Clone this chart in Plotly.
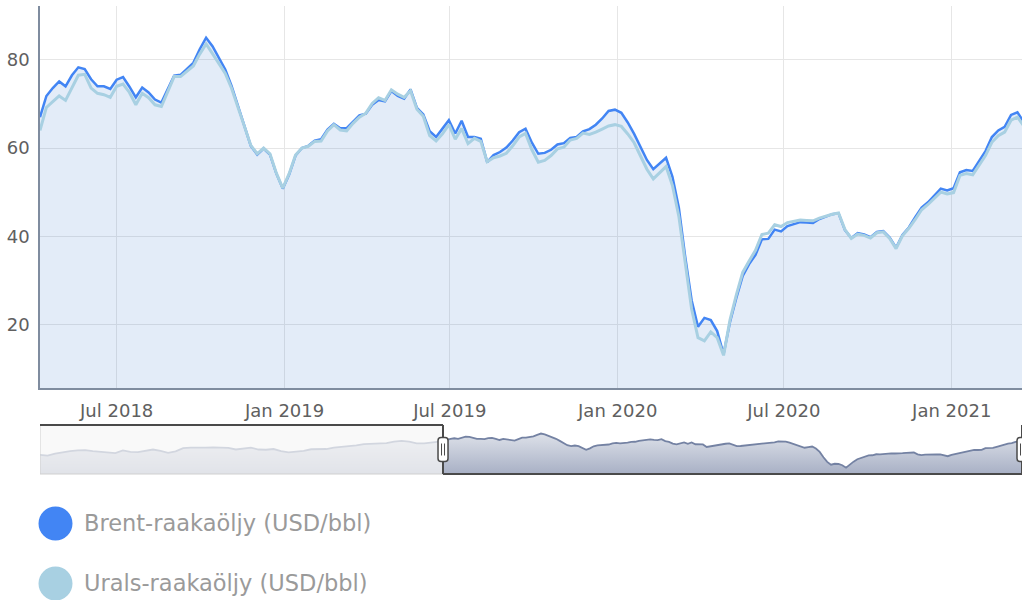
import pandas as pd
import plotly.graph_objects as go

# ---------------- data ----------------
week_start = "2018-04-08"
brent = [67.0, 71.8, 73.6, 75.1, 74.0, 76.5, 78.3, 77.9, 75.6, 74.0,
         74.0, 73.4, 75.5, 76.1, 73.9, 71.5, 73.7, 72.6, 71.0, 70.3,
         73.4, 76.4, 76.6, 78.0, 79.3, 82.4, 85.0, 83.1, 80.5, 77.8,
         74.0, 69.6, 64.8, 60.5, 58.5, 59.9, 58.5, 54.2, 50.8, 54.0,
         58.3, 60.0, 60.5, 61.7, 62.0, 64.2, 65.5, 64.5, 64.5, 66.0,
         67.4, 67.8, 69.8, 70.9, 70.6, 72.9, 71.8, 71.2, 73.3, 69.1,
         67.6, 63.8, 62.5, 64.4, 66.3, 63.3, 66.2, 62.5, 62.5, 62.1,
         56.8, 58.4, 59.1, 60.1, 61.7, 63.6, 64.4, 61.2, 58.7, 58.9,
         59.6, 60.8, 61.1, 62.3, 62.5, 63.8, 64.3, 65.3, 66.7, 68.4,
         68.7, 68.0, 65.8, 63.2, 60.3, 57.3, 55.2, 56.6, 57.8, 53.5,
         46.5, 35.3, 25.5, 19.5, 21.5, 21.0, 18.5, 13.3, 20.5, 26.0,
         31.0, 33.7, 35.8, 39.3, 39.4, 41.5, 41.1, 42.3, 42.8, 43.2,
         43.1, 43.0, 43.9, 44.5, 45.0, 45.2, 41.4, 39.6, 40.7, 40.4,
         39.8, 41.0, 41.2, 39.7, 37.4, 40.3, 42.0, 44.3, 46.5, 47.7,
         49.2, 50.8, 50.4, 50.9, 54.5, 55.0, 54.8, 57.0, 59.3, 62.5,
         64.0, 64.8, 67.5, 68.1, 65.9]
urals = [64.0, 69.2, 70.5, 71.8, 70.8, 73.6, 76.5, 76.7, 73.6, 72.4,
         72.1, 71.5, 74.0, 74.5, 72.6, 69.8, 72.4, 71.4, 69.8, 69.4,
         73.0, 76.2, 76.2, 77.5, 78.6, 81.3, 83.6, 81.4, 79.0, 76.9,
         73.5, 69.3, 64.9, 60.6, 58.7, 60.0, 58.7, 54.3, 50.9, 54.2,
         58.4, 60.0, 60.4, 61.5, 61.6, 63.9, 65.3, 64.1, 63.9, 65.6,
         67.0, 67.9, 70.1, 71.4, 70.8, 73.2, 72.2, 71.5, 73.0, 68.8,
         67.2, 62.8, 61.6, 63.2, 65.3, 62.0, 64.4, 61.0, 62.2, 61.5,
         56.9, 57.8, 58.2, 58.8, 60.5, 62.5, 63.3, 59.6, 56.8, 57.2,
         58.3, 59.8, 60.2, 61.8, 62.2, 63.4, 63.1, 63.6, 64.3, 65.0,
         65.3, 64.9, 63.2, 61.2, 58.2, 55.2, 53.0, 54.5, 55.8, 51.5,
         44.5, 34.0, 23.5, 17.0, 16.3, 18.3, 17.0, 13.0, 21.0, 26.7,
         31.8, 34.4, 36.8, 40.4, 40.7, 42.6, 42.2, 43.1, 43.4, 43.7,
         43.6, 43.5, 44.1, 44.6, 45.0, 45.3, 41.5, 39.5, 40.5, 40.2,
         39.6, 40.8, 41.0, 39.5, 37.2, 40.1, 41.8, 43.8, 46.0, 47.2,
         48.5, 50.0, 49.6, 49.9, 53.8, 54.2, 53.9, 56.0, 58.3, 61.3,
         62.8, 63.6, 66.3, 67.0, 65.0]

# navigator history (Brent, two-weekly) before the selected range
hist_start = "2016-03-20"
hist_brent = [40.0, 38.7, 43.0, 46.0, 48.0, 49.5, 50.0, 48.0, 46.5, 44.5,
              44.0, 49.5, 46.5, 46.0, 49.5, 51.5, 48.5, 44.5, 47.5, 54.5,
              55.5, 55.0, 55.5, 56.0, 56.0, 55.0, 51.5, 53.0, 55.5, 51.5,
              51.0, 52.5, 48.0, 45.5, 47.0, 48.5, 52.0, 51.5, 52.5, 55.5,
              57.0, 57.5, 60.0, 63.0, 63.5, 63.5, 65.0, 68.0, 69.5, 68.0,
              64.5, 64.5, 66.0, 68.0]

y_ticks = [20, 40, 60, 80]
series_names = ["Brent-raakaöljy (USD/bbl)", "Urals-raakaöljy (USD/bbl)"]
series_colors = ["#4285f4", "#a8d0e2"]

view_start, view_end = "2018-04-08", "2021-03-19"
nav_start, nav_end = "2016-03-20", "2021-03-19"

dates = pd.date_range(week_start, periods=len(brent), freq="7D")
hist_dates = pd.date_range(hist_start, periods=len(hist_brent), freq="14D")
nav_x = list(hist_dates) + list(dates)
nav_y = hist_brent + brent

W, H = 1027, 600
xdom = [40 / W, 1022 / W]
FONT = "DejaVu Sans"

fig = go.Figure()
fig.add_trace(go.Scatter(
    x=dates, y=brent, mode="lines", name=series_names[0],
    line=dict(color=series_colors[0], width=2.5),
    fill="tozeroy", fillcolor="rgba(68,128,208,0.15)",
    xaxis="x", yaxis="y"))
fig.add_trace(go.Scatter(
    x=dates, y=urals, mode="lines", name=series_names[1],
    line=dict(color=series_colors[1], width=3),
    xaxis="x", yaxis="y"))
fig.add_trace(go.Scatter(
    x=nav_x, y=nav_y, mode="lines", showlegend=False,
    line=dict(color="#7482a3", width=1.8),
    fill="tozeroy",
    fillgradient=dict(type="vertical",
                      colorscale=[[0, "#a8b0c5"], [1, "#dde1e9"]]),
    xaxis="x2", yaxis="y2", hoverinfo="skip"))

tickfont = dict(family=FONT, size=18, color="#606060")
fig.update_layout(
    width=W, height=H,
    margin=dict(l=0, r=0, t=0, b=0),
    paper_bgcolor="white", plot_bgcolor="white",
    showlegend=False,
    xaxis=dict(domain=xdom, anchor="y", type="date",
               range=[view_start, view_end],
               tick0="2018-01-01", dtick="M6", tickformat="%b %Y",
               showgrid=True, gridcolor="#e6e6e6", gridwidth=1,
               showline=True, linecolor="#7f8c9f", linewidth=1.5,
               zeroline=False, ticks="", tickfont=tickfont,
               ticklabelstandoff=6, automargin=False),
    yaxis=dict(domain=[1 - 388 / H, 1 - 6 / H], anchor="x",
               range=[5.6, 92.2], tickvals=y_ticks,
               showgrid=True, gridcolor="#e6e6e6", gridwidth=1,
               showline=True, linecolor="#7f8c9f", linewidth=1.5,
               zeroline=False, ticks="", tickfont=tickfont,
               ticklabelstandoff=5, automargin=False),
    xaxis2=dict(domain=xdom, anchor="y2", type="date",
                range=[nav_start, nav_end], showgrid=False,
                showline=False, zeroline=False, showticklabels=False,
                ticks="", automargin=False),
    yaxis2=dict(domain=[1 - 474 / H, 1 - 425 / H], anchor="x2",
                range=[0, 103], showgrid=False, showline=False,
                zeroline=False, showticklabels=False, ticks="",
                automargin=False),
)

shapes = []
# unselected navigator mask
shapes.append(dict(type="rect", xref="x2", yref="y2 domain",
                   x0=nav_start, x1=view_start, y0=0, y1=1,
                   fillcolor="rgba(246,246,246,0.72)", line=dict(width=0),
                   layer="above"))
# light outer border of left part
for (xa, xb, ya, yb) in [(nav_start, view_start, 0, 0),
                         (nav_start, nav_start, 0, 1)]:
    shapes.append(dict(type="line", xref="x2", yref="y2 domain",
                       x0=xa, x1=xb, y0=ya, y1=yb,
                       line=dict(color="#cfcfcf", width=1), layer="above"))
# dark outline
for (xa, xb, ya, yb) in [(nav_start, view_start, 1, 1),
                         (view_start, view_start, 1, 0),
                         (view_start, nav_end, 0, 0),
                         (nav_end, nav_end, 0, 1)]:
    shapes.append(dict(type="line", xref="x2", yref="y2 domain",
                       x0=xa, x1=xb, y0=ya, y1=yb,
                       line=dict(color="#4a4a4a", width=2), layer="above"))
# handles
handle_path = ("M-5,-9 Q-5,-12 -2,-12 L2,-12 Q5,-12 5,-9 L5,9 "
               "Q5,12 2,12 L-2,12 Q-5,12 -5,9 Z")
grip_path = "M-1.5,-6 L-1.5,6 M1.5,-6 L1.5,6"
for hx in [view_start, nav_end]:
    shapes.append(dict(type="path", xref="x2", yref="y2 domain",
                       xsizemode="pixel", ysizemode="pixel",
                       xanchor=hx, yanchor=0.5, path=handle_path,
                       fillcolor="white", line=dict(color="#4a4a4a", width=1.5),
                       layer="above"))
    shapes.append(dict(type="path", xref="x2", yref="y2 domain",
                       xsizemode="pixel", ysizemode="pixel",
                       xanchor=hx, yanchor=0.5, path=grip_path,
                       line=dict(color="#4a4a4a", width=1), layer="above"))

# custom legend
annotations = []
legend_y = [1 - 523.5 / H, 1 - 583.5 / H]
for name, col, ly in zip(series_names, series_colors, legend_y):
    shapes.append(dict(type="circle", xref="paper", yref="paper",
                       xsizemode="pixel", ysizemode="pixel",
                       xanchor=55.5 / W, yanchor=ly,
                       x0=-17, x1=17, y0=-17, y1=17,
                       fillcolor=col, line=dict(width=0)))
    annotations.append(dict(text=name, xref="paper", yref="paper",
                            x=82 / W, y=ly + 1 / H, xanchor="left",
                            yanchor="middle", showarrow=False,
                            font=dict(family=FONT, size=22.5, color="#9a9a9a")))

fig.update_layout(shapes=shapes, annotations=annotations)
fig.write_html("out.html",
               config={"displayModeBar": False},
               post_script="document.body.style.margin='0px';"
                           "document.body.style.overflow='hidden';")
